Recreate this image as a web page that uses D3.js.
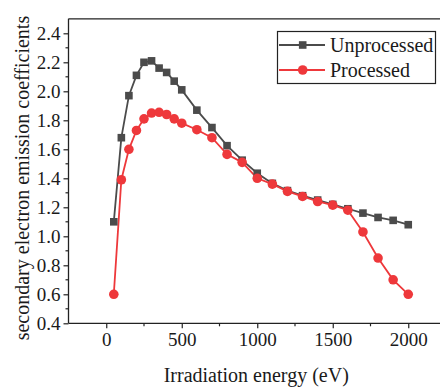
<!DOCTYPE html>
<html><head><meta charset="utf-8">
<script src="https://cdn.jsdelivr.net/npm/d3@7"></script>
<style>body{margin:0;background:#fff;}svg{display:block;}</style>
</head><body>
<script>
const energy = [50,100,150,200,250,300,350,400,450,500,600,700,800,900,1000,1100,1200,1300,1400,1500,1600,1700,1800,1900,2000];
const unprocessed = [1.10,1.68,1.97,2.11,2.20,2.21,2.16,2.13,2.07,2.01,1.87,1.75,1.625,1.525,1.435,1.365,1.315,1.28,1.25,1.22,1.19,1.16,1.13,1.11,1.08];
const processed = [0.60,1.39,1.60,1.73,1.81,1.85,1.855,1.84,1.81,1.78,1.735,1.68,1.565,1.51,1.40,1.36,1.31,1.275,1.24,1.215,1.18,1.03,0.85,0.70,0.60];
const seriesNames = ["Unprocessed","Processed"];
const seriesColors = ["#4b4b4b","#ee383b"];
const xTicks = [0,500,1000,1500,2000];
const yTicks = [0.4,0.6,0.8,1.0,1.2,1.4,1.6,1.8,2.0,2.2,2.4];

const FONT = "'Liberation Serif', 'Times New Roman', Times, 'DejaVu Serif', serif";
const W=440,H=387;
const svg=d3.select("body").append("svg").attr("width",W).attr("height",H);
const x=d3.scaleLinear().domain([-250,2250]).range([68.5,446]);
const y=d3.scaleLinear().domain([0.4,2.5]).range([323.3,18.8]);
const axisColor="#222";

const xMinor=d3.range(-250,2251,250).filter(v=>!xTicks.includes(v)&&v>-250);
const yMinor=d3.range(5,25,1).map(v=>v/10).filter(v=>!yTicks.some(t=>Math.abs(t-v)<1e-6));

const gx=svg.append("g").attr("transform",`translate(0,${y(0.4)})`)
  .call(d3.axisBottom(x).tickValues(xTicks).tickSize(5).tickPadding(4).tickFormat(d3.format("d")));
gx.attr("font-family",null).attr("font-size",null);
gx.select(".domain").attr("stroke",axisColor).attr("stroke-width",1.3).attr("d",`M${x(-250)},0H${W}`);
gx.selectAll(".tick line").attr("stroke",axisColor).attr("stroke-width",1.2);
gx.selectAll(".tick text").style("font-size","19px").style("font-family",FONT).attr("fill","#1a1a1a");
gx.selectAll(".minor").data(xMinor).enter().append("line")
  .attr("x1",d=>x(d)).attr("x2",d=>x(d)).attr("y1",0).attr("y2",3).attr("stroke",axisColor).attr("stroke-width",1.2);

const gy=svg.append("g").attr("transform",`translate(${x(-250)},0)`)
  .call(d3.axisLeft(y).tickValues(yTicks).tickSize(5).tickPadding(3).tickFormat(d3.format(".1f")));
gy.attr("font-family",null).attr("font-size",null);
gy.select(".domain").attr("stroke",axisColor).attr("stroke-width",1.3).attr("d",`M0,${y(0.4)}V${y(2.5)}`);
gy.selectAll(".tick line").attr("stroke",axisColor).attr("stroke-width",1.2);
gy.selectAll(".tick text").style("font-size","19px").style("font-family",FONT).attr("fill","#1a1a1a");
gy.selectAll(".minor").data(yMinor).enter().append("line")
  .attr("y1",d=>y(d)).attr("y2",d=>y(d)).attr("x1",0).attr("x2",-3).attr("stroke",axisColor).attr("stroke-width",1.2);

svg.append("line").attr("x1",x(-250)).attr("x2",W).attr("y1",y(2.5)).attr("y2",y(2.5)).attr("stroke",axisColor).attr("stroke-width",1.3);

svg.append("text").attr("x",(x(-250)+W)/2+2).attr("y",382).attr("text-anchor","middle")
  .style("font-size","20px").style("font-family",FONT).attr("fill","#1a1a1a").text("Irradiation energy (eV)");
svg.append("text").attr("transform",`translate(29,${(y(0.4)+y(2.5))/2+7}) rotate(-90)`).attr("text-anchor","middle")
  .style("font-size","20px").style("font-family",FONT).attr("fill","#1a1a1a").text("secondary electron emission coefficients");

const line=d3.line().x((d,i)=>x(energy[i])).y(d=>y(d));
const data=[unprocessed,processed];
data.forEach((vals,k)=>{
  svg.append("path").attr("d",line(vals)).attr("fill","none").attr("stroke",seriesColors[k]).attr("stroke-width",1.8);
});
svg.append("g").selectAll("rect").data(unprocessed).enter().append("rect")
  .attr("x",(d,i)=>x(energy[i])-3.8).attr("y",d=>y(d)-3.8).attr("width",7.6).attr("height",7.6).attr("fill",seriesColors[0]);
svg.append("g").selectAll("circle").data(processed).enter().append("circle")
  .attr("cx",(d,i)=>x(energy[i])).attr("cy",d=>y(d)).attr("r",4.8).attr("fill",seriesColors[1]);

const lg=svg.append("g");
lg.append("rect").attr("x",277.5).attr("y",31.5).attr("width",158).attr("height",52).attr("fill","#fff").attr("stroke","#222").attr("stroke-width",1.2);
seriesNames.forEach((n,k)=>{
  const yy=45+k*25;
  lg.append("line").attr("x1",279).attr("x2",325).attr("y1",yy).attr("y2",yy).attr("stroke",seriesColors[k]).attr("stroke-width",1.8);
  if(k===0) lg.append("rect").attr("x",302.7-3.8).attr("y",yy-3.8).attr("width",7.6).attr("height",7.6).attr("fill",seriesColors[k]);
  else lg.append("circle").attr("cx",302.7).attr("cy",yy).attr("r",4.8).attr("fill",seriesColors[k]);
  lg.append("text").attr("x",330).attr("y",yy+7).style("font-size","20px").style("font-family",FONT).attr("fill","#1a1a1a").text(n);
});
</script>
</body></html>
